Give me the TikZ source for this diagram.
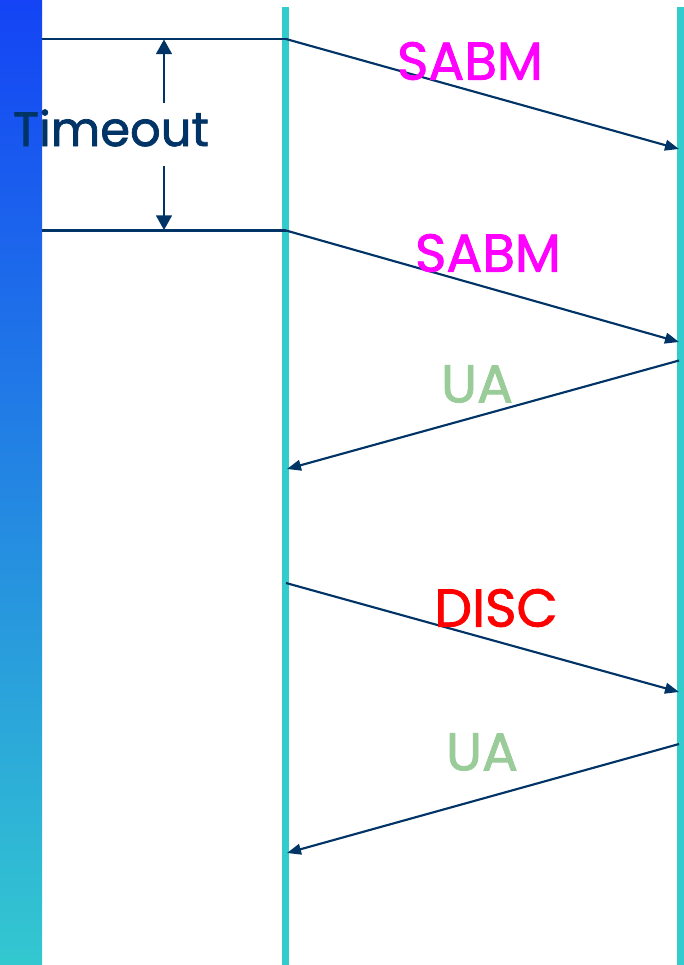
\documentclass[tikz,border=0pt]{standalone}
\usepackage{fontspec}
\setmainfont{Poppins}
\newfontfamily\lblfont{Poppins}[FakeBold=1.5]
\usetikzlibrary{arrows.meta}
\definecolor{navy}{HTML}{003366}
\definecolor{life}{HTML}{33CCCC}
\definecolor{barTop}{HTML}{1444F5}
\definecolor{barBot}{HTML}{33C8D0}
\definecolor{mag}{HTML}{FF00FF}
\definecolor{uagreen}{HTML}{99CC99}
\definecolor{discred}{HTML}{FF0000}
\begin{document}
\begin{tikzpicture}[x=0.75pt,y=-0.75pt,
  lifeline/.style={draw=life, line width=5.25pt},
  msg/.style={draw=navy, line width=1.6pt, -{Triangle[length=10.5pt,width=8pt]}},
  tline/.style={draw=navy, line width=1.6pt},
  tarrow/.style={draw=navy, line width=1.2pt, -{Triangle[length=11pt,width=12pt]}},
  lbl/.style={inner sep=0pt, font=\lblfont\fontsize{40}{44}\selectfont}]
\useasboundingbox (0,0) rectangle (684,965);
\fill[white] (0,0) rectangle (684,965);
\shade[top color=barTop, bottom color=barBot] (0,0) rectangle (42,965);
% lifelines
\coordinate (mTop) at (285.5,7);
\coordinate (mBot) at (285.5,965);
\coordinate (rTop) at (680.5,7);
\coordinate (rBot) at (680.5,965);
\draw[lifeline] (mTop) -- (mBot);
\draw[lifeline] (rTop) -- (rBot);
% endpoints
\coordinate (a0) at (42,39);
\coordinate (a1) at (286,39);
\coordinate (a2) at (679,149);
\coordinate (b0) at (42,230.5);
\coordinate (b1) at (286,230.5);
\coordinate (b2) at (679,342);
\coordinate (c1) at (679,360.5);
\coordinate (c2) at (287,469);
\coordinate (d1) at (286,583);
\coordinate (d2) at (679,692);
\coordinate (e1) at (679,744);
\coordinate (e2) at (287,853);
\draw[tline] (a0) -- (a1);
\draw[msg] (a1) -- (a2);
\draw[tline] (b0) -- (b1);
\draw[msg] (b1) -- (b2);
\draw[msg] (c1) -- (c2);
\draw[msg] (d1) -- (d2);
\draw[msg] (e1) -- (e2);
% timeout
\node[lbl, text=navy, font=\lblfont\fontsize{36}{40}\selectfont] (tmo) at (111,128) {Timeout};
\coordinate (tu) at (164,103);
\coordinate (td) at (164,166);
\coordinate (tuE) at (164,39.5);
\coordinate (tdE) at (164,230);
\draw[tarrow] (tu) -- (tuE);
\draw[tarrow] (td) -- (tdE);
% labels
\node[lbl, text=mag] (sabm1) at (470,61) {SABM};
\node[lbl, text=mag] (sabm2) at (488,253) {SABM};
\node[lbl, text=uagreen] (ua1) at (477,384) {UA};
\node[lbl, text=discred] (disc) at (496,608) {DISC};
\node[lbl, text=uagreen] (ua2) at (482,752) {UA};
\end{tikzpicture}
\end{document}
